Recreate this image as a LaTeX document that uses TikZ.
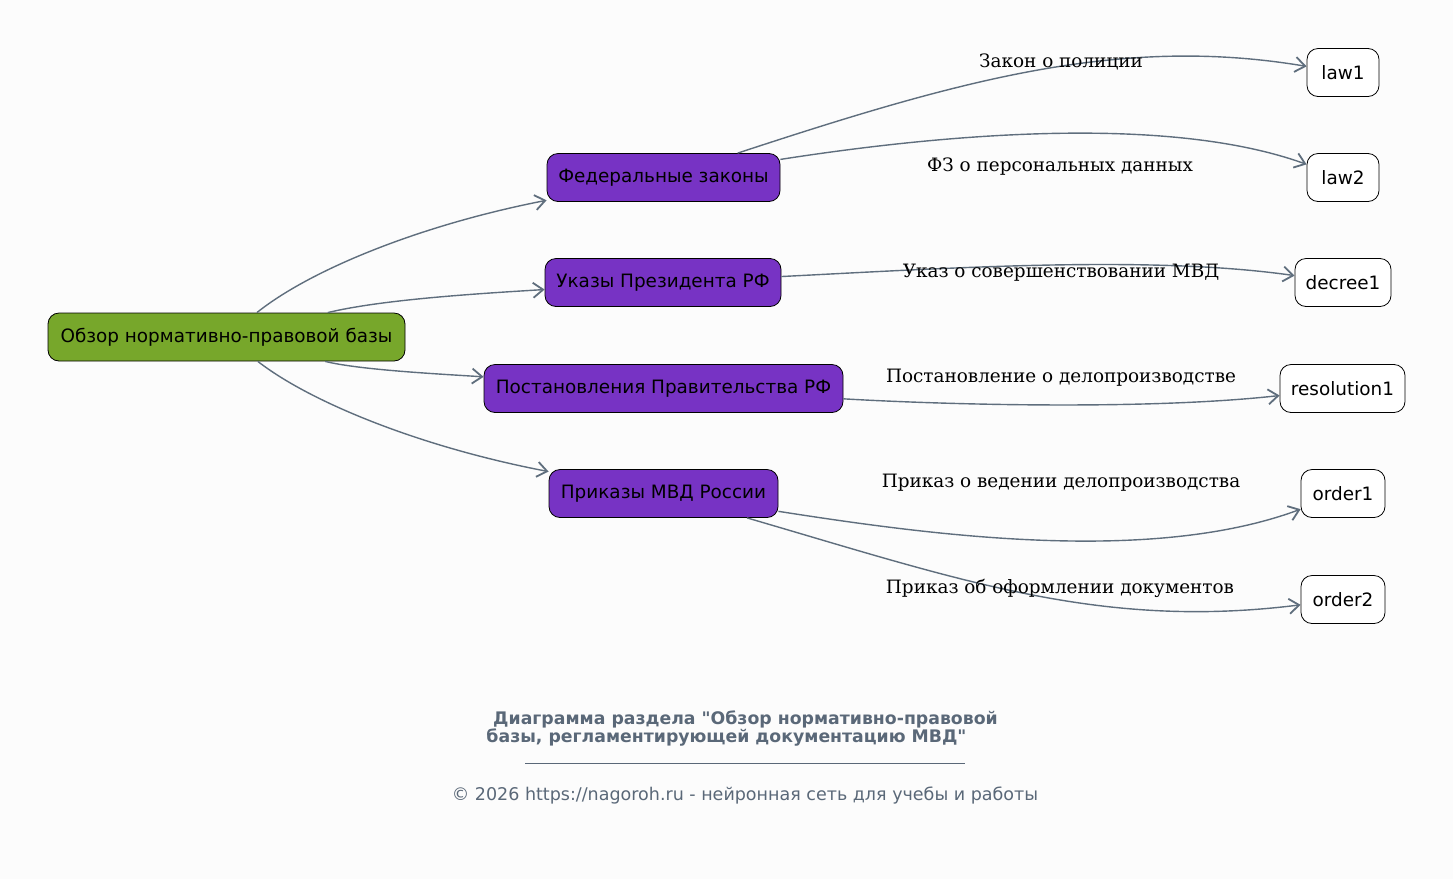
\documentclass[tikz,border=0pt]{standalone}
\usepackage{fontspec}
\setmainfont{DejaVu Serif}
\newfontfamily\dejavu{DejaVu Sans}
\usetikzlibrary{arrows.meta}
\definecolor{bgc}{HTML}{FCFCFC}
\definecolor{greenc}{HTML}{77A72B}
\definecolor{purplec}{HTML}{7733C4}
\definecolor{edgec}{HTML}{5F6E7D}
\definecolor{footc}{HTML}{5A6878}
\tikzset{
  box/.style={draw=black, line width=0.8pt, rounded corners=11pt, minimum height=48pt, inner xsep=10pt, font=\dejavu\fontsize{18.4}{22}\selectfont, text=black},
  rootbox/.style={box, fill=greenc},
  midbox/.style={box, fill=purplec},
  leafbox/.style={box, fill=white},
  conn/.style={draw=edgec, line width=1.4pt, -{Straight Barb[length=10pt,width=15pt,line width=1.8pt]}},
  elabel/.style={font=\fontsize{18.4}{22}\selectfont, text=black},
}
\begin{document}
\begin{tikzpicture}[x=1pt,y=-1pt]
\fill[bgc] (0,0) rectangle (1453,879);
\useasboundingbox (0,0) rectangle (1453,879);

\node[rootbox, minimum width=357pt] (root) at (226.5,337) {Обзор нормативно-правовой базы};
\node[midbox, minimum width=233pt] (fed) at (663.5,177.5) {Федеральные законы};
\node[midbox, minimum width=236pt] (ukaz) at (663,282.5) {Указы Президента РФ};
\node[midbox, minimum width=359pt] (post) at (663.5,388.5) {Постановления Правительства РФ};
\node[midbox, minimum width=229pt] (prik) at (663.5,493.5) {Приказы МВД России};

\node[leafbox, minimum width=72pt] (law1) at (1343,72.5) {law1};
\node[leafbox, minimum width=72pt] (law2) at (1343,177.5) {law2};
\node[leafbox, minimum width=96pt] (decree1) at (1343,282.5) {decree1};
\node[leafbox, minimum width=125pt] (resolution1) at (1342.5,388.5) {resolution1};
\node[leafbox, minimum width=84pt] (order1) at (1343,493.5) {order1};
\node[leafbox, minimum width=84pt] (order2) at (1343,599.5) {order2};

\draw[conn] (root) .. controls (310,270) and (420,225) .. (fed);
\draw[conn] (root) .. controls (380,300) and (470,294) .. (ukaz);
\draw[conn] (root) .. controls (360,370) and (440,374) .. (post);
\draw[conn] (root) .. controls (310,402) and (420,447) .. (prik);

\draw[conn] (fed) .. controls (960,80) and (1120,35) .. (law1);
\draw[conn] (fed) .. controls (950,133) and (1170,115) .. (law2);
\draw[conn] (ukaz) .. controls (950,268) and (1150,255) .. (decree1);
\draw[conn] (post) .. controls (950,405) and (1150,410) .. (resolution1);
\draw[conn] (prik) .. controls (930,535) and (1150,565) .. (order1);
\draw[conn] (prik) .. controls (960,580) and (1100,630) .. (order2);

\node[elabel] (l1) at (1061,61.5) {Закон о полиции};
\node[elabel] (l2) at (1060,166.5) {ФЗ о персональных данных};
\node[elabel] (l3) at (1061,272.5) {Указ о совершенствовании МВД};
\node[elabel] (l4) at (1061,377.5) {Постановление о делопроизводстве};
\node[elabel] (l5) at (1061,482.5) {Приказ о ведении делопроизводства};
\node[elabel] (l6) at (1060,588.5) {Приказ об оформлении документов};

\node[font=\dejavu\bfseries\fontsize{17.3}{20}\selectfont, text=footc] (t1) at (745.5,719) {Диаграмма раздела "Обзор нормативно-правовой};
\node[font=\dejavu\bfseries\fontsize{17.3}{20}\selectfont, text=footc] (t2) at (726.5,737) {базы, регламентирующей документацию МВД"};
\coordinate (ulA) at (525,763);
\coordinate (ulB) at (965,763);
\draw[footc, line width=0.6pt] (ulA) -- (ulB);
\node[font=\dejavu\fontsize{17.5}{20}\selectfont, text=footc] (copy) at (745,796) {© 2026 https://nagoroh.ru - нейронная сеть для учебы и работы};
\end{tikzpicture}
\end{document}
